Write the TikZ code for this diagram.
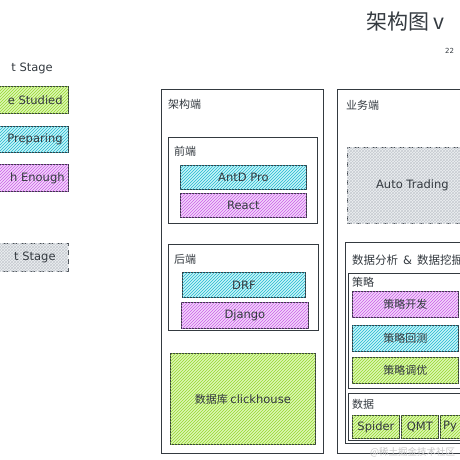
\documentclass[tikz,border=0pt]{standalone}
\usepackage{fontspec}
\setmainfont{Noto Sans CJK SC}
\newfontfamily\hand{DejaVu Sans}
\usetikzlibrary{positioning}
\usetikzlibrary{patterns}

\definecolor{ink}{HTML}{343A40}
\definecolor{limefill}{HTML}{DDF6B4}
\definecolor{limehatch}{HTML}{94D82D}
\definecolor{cyanfill}{HTML}{C8F4F8}
\definecolor{cyanhatch}{HTML}{22B8CF}
\definecolor{pinkfill}{HTML}{F2D6FA}
\definecolor{pinkhatch}{HTML}{CC5DE8}
\definecolor{grayfill}{HTML}{EEF0F2}
\definecolor{grayhatch}{HTML}{ADB5BD}

\begin{document}
\begin{tikzpicture}[x=1pt,y=-1pt,
  every node/.style={font=\fontsize{11}{13}\selectfont, text=ink},
  latin/.style={font=\hand\fontsize{11.5}{13}\selectfont},
  frame/.style={draw=ink, line width=0.8pt, anchor=north west, inner sep=0pt},
  lime/.style={frame, latin, fill=limefill, postaction={pattern=north east lines, pattern color=limehatch}},
  cyan/.style={frame, latin, fill=cyanfill, postaction={pattern=north east lines, pattern color=cyanhatch}},
  pink/.style={frame, latin, fill=pinkfill, postaction={pattern=north east lines, pattern color=pinkhatch}},
  ghost/.style={frame, latin, dashed, dash pattern=on 5pt off 4pt, fill=grayfill, postaction={pattern=crosshatch, pattern color=grayhatch!70}},
  tag/.style={inner sep=0pt}]
  \useasboundingbox (0,0) rectangle (460,460);
  \clip (0,0) rectangle (460,460);

  % legend
  \node[tag, latin, anchor=east] (stage) at (53,68) {t Stage};
  \node[lime, minimum width=128pt, minimum height=27pt] (studied) at (-60,86) {};
  \node[tag, latin, anchor=east] at ([xshift=-6pt]studied.east) {e Studied};
  \node[cyan, minimum width=128pt, minimum height=26pt] (preparing) at (-60,126) {};
  \node[tag, latin, anchor=east] at ([xshift=-6pt]preparing.east) {Preparing};
  \node[pink, minimum width=128pt, minimum height=27pt] (enough) at (-60,164) {};
  \node[tag, latin, anchor=east] at ([xshift=-4pt]enough.east) {h Enough};
  \node[ghost, minimum width=128pt, minimum height=28pt] (next) at (-60,243) {};
  \node[tag, latin, anchor=east] at ([xshift=-13pt]next.east) {t Stage};

  % title
  \node[tag, anchor=base west, font=\fontsize{21}{25}\selectfont] (title) at (366,30) {架构图 v};
  \node[tag, anchor=base west, font=\hand\fontsize{7}{8}\selectfont] (date) at (445,53) {22};

  % 架构端
  \node[frame, minimum width=162pt, minimum height=364pt] (arch) at (161,89) {};
  \node[tag, below right=10pt and 7pt of arch.north west] {架构端};
  \node[frame, minimum width=149pt, minimum height=86pt] (front) at (168,137) {};
  \node[tag, below right=9pt and 6pt of front.north west] {前端};
  \node[cyan, minimum width=126pt, minimum height=24pt] (antd) at (180,165) {AntD Pro};
  \node[pink, minimum width=126pt, minimum height=24pt] (react) at (180,193) {React};
  \node[frame, minimum width=150pt, minimum height=86pt] (back) at (168,244) {};
  \node[tag, below right=10pt and 6pt of back.north west] {后端};
  \node[cyan, minimum width=123pt, minimum height=25pt] (drf) at (182,272) {DRF};
  \node[pink, minimum width=127pt, minimum height=26pt] (django) at (181,302) {Django};
  \node[lime, minimum width=145pt, minimum height=91pt] (db) at (170,353) {\rmfamily\fontsize{11}{13}\selectfont 数据库 {\hand\fontsize{11.5}{13}\selectfont clickhouse}};

  % 业务端
  \node[frame, minimum width=170pt, minimum height=364pt] (biz) at (337,89) {};
  \node[tag, below right=11pt and 9pt of biz.north west] {业务端};
  \node[ghost, minimum width=130pt, minimum height=76pt] (auto) at (347,147) {Auto Trading};
  \node[frame, minimum width=160pt, minimum height=201pt] (mining) at (345,242) {};
  \node[tag, below right=13pt and 7pt of mining.north west, font=\fontsize{11.5}{14}\selectfont] {数据分析\hspace{5pt}{\hand\&}\hspace{5pt}数据挖掘};
  \node[frame, minimum width=150pt, minimum height=115pt] (strategy) at (348,273) {};
  \node[tag, below right=4pt and 4pt of strategy.north west] {策略};
  \node[pink, minimum width=106pt, minimum height=26pt, font=\rmfamily\fontsize{11}{13}\selectfont] (develop) at (352,291) {策略开发};
  \node[cyan, minimum width=106pt, minimum height=26pt, font=\rmfamily\fontsize{11}{13}\selectfont] (backtest) at (352,325) {策略回测};
  \node[lime, minimum width=106pt, minimum height=26pt, font=\rmfamily\fontsize{11}{13}\selectfont] (tune) at (352,357) {策略调优};
  \node[frame, minimum width=150pt, minimum height=47pt] (data) at (348,393) {};
  \node[tag, below right=6pt and 4pt of data.north west] {数据};
  \node[lime, minimum width=47pt, minimum height=23pt] (spider) at (352,415) {Spider};
  \node[lime, minimum width=37pt, minimum height=23pt] (qmt) at (401,415) {QMT};
  \node[lime, minimum width=50pt, minimum height=23pt] (py) at (440,415) {};
  \node[tag, latin, anchor=west] at ([xshift=3pt]py.west) {Py};

  \node[tag, anchor=west, text=gray!45, font=\fontsize{9.5}{11}\selectfont] (mark) at (370,452) {@稀土掘金技术社区};
\end{tikzpicture}
\end{document}
